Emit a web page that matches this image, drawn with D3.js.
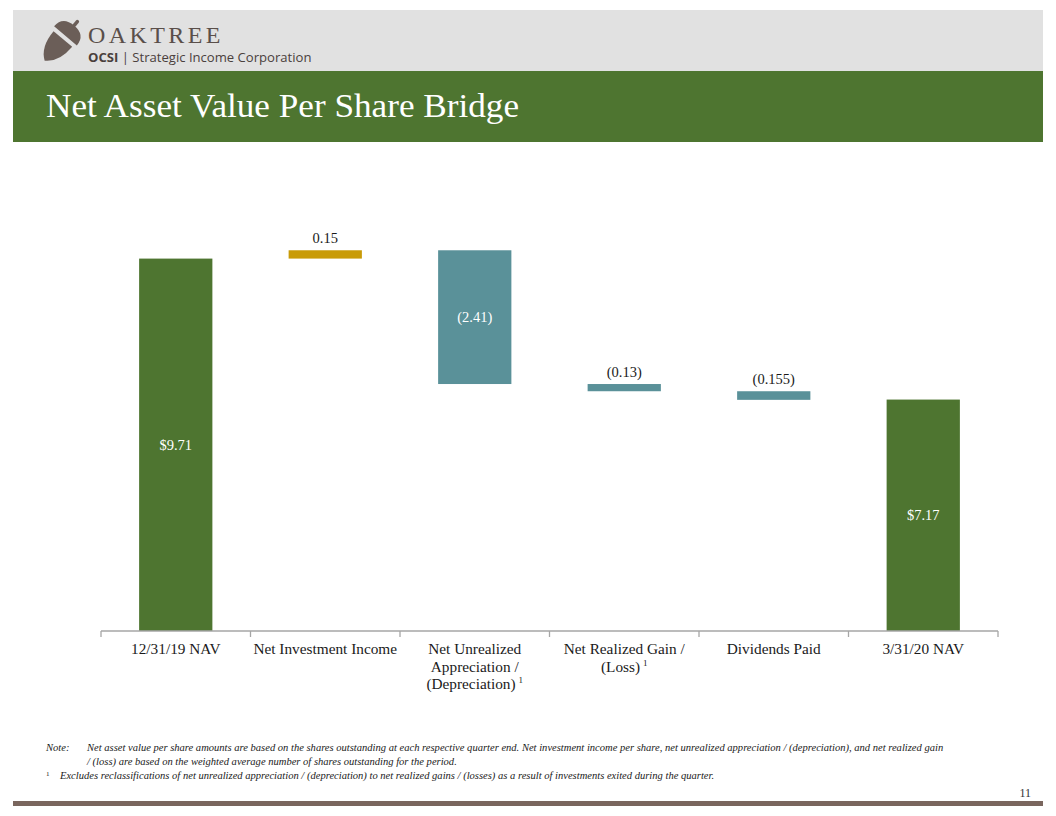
<!DOCTYPE html>
<html>
<head>
<meta charset="utf-8">
<script src="https://cdn.jsdelivr.net/npm/d3@7"></script>
<style>
  body { margin: 0; background: #fff; }
  svg text { font-family: "Liberation Serif", "DejaVu Serif", serif; }
</style>
</head>
<body>
<svg id="chart"></svg>
<script>
// Data
const categories = ["12/31/19 NAV", "Net Investment Income", "Net Unrealized Appreciation / (Depreciation)", "Net Realized Gain / (Loss)", "Dividends Paid", "3/31/20 NAV"];
const values = [9.71, 0.15, -2.41, -0.13, -0.155, 7.17];
const kinds = ["total", "delta", "delta", "delta", "delta", "total"];
const valueLabels = ["$9.71", "0.15", "(2.41)", "(0.13)", "(0.155)", "$7.17"];
const axisLines = [["12/31/19 NAV"], ["Net Investment Income"], ["Net Unrealized", "Appreciation /", "(Depreciation)"], ["Net Realized Gain /", "(Loss)"], ["Dividends Paid"], ["3/31/20 NAV"]];
const footnoteFlags = [false, false, true, true, false, false];

const width = 1056, height = 816;
const green = "#4e7530", teal = "#5a9199", gold = "#c99b07";

const svg = d3.select("#chart").attr("width", width).attr("height", height);

// Header
svg.append("rect").attr("x", 13).attr("y", 10).attr("width", 1030).attr("height", 61).attr("fill", "#e1e1e1");
svg.append("rect").attr("x", 13).attr("y", 71).attr("width", 1030).attr("height", 71).attr("fill", green);

// acorn logo
const logo = svg.append("g").attr("transform", "translate(62,40) rotate(40) scale(1.35)").attr("fill", "#6b5e58");
logo.append("path").attr("d", "M-11,-4 Q-11,-14 0,-14 Q11,-14 11,-4 Z");
logo.append("path").attr("d", "M-9,-1 L9,-1 Q9,14 0,20 Q-9,14 -9,-1 Z");
logo.append("rect").attr("x", -1.3).attr("y", -19).attr("width", 2.6).attr("height", 6).attr("rx", 1.3);

svg.append("text").attr("x", 88).attr("y", 43)
    .attr("font-size", 24).attr("letter-spacing", 3.4).attr("fill", "#5a4f4a")
    .text("OAKTREE");
const sub = svg.append("text").attr("x", 88).attr("y", 62)
    .style("font-family", "'Open Sans', 'Noto Sans', sans-serif")
    .attr("font-size", 13.1).attr("fill", "#4a403c");
sub.append("tspan").attr("font-weight", "bold").text("OCSI");
sub.append("tspan").text(" | Strategic Income Corporation");

svg.append("text").attr("x", 46).attr("y", 117)
    .attr("font-size", 33).attr("fill", "#fff")
    .attr("textLength", 473).attr("lengthAdjust", "spacingAndGlyphs")
    .text("Net Asset Value Per Share Bridge");

// Waterfall steps
let running = 0;
const steps = values.map((v, i) => {
    let lo, hi;
    if (kinds[i] === "total") { lo = 0; hi = v; running = v; }
    else { const prev = running; running = prev + v; lo = Math.min(prev, running); hi = Math.max(prev, running); }
    return { cat: categories[i], v, lo, hi, kind: kinds[i], label: valueLabels[i] };
});

// Scales
const x = d3.scaleBand().domain(categories).range([101, 998]).paddingInner(0).paddingOuter(0);
const y = d3.scaleLinear().domain([3, 10]).range([631, 242.5]);
const barW = x.bandwidth() * 0.49;

const fillFor = d => d.kind === "total" ? green : (d.v > 0 ? gold : teal);
const barH = d => y(Math.max(d.lo, 3)) - y(d.hi);

const bars = svg.selectAll("g.bar").data(steps).enter().append("g").attr("class", "bar");

bars.append("rect")
    .attr("x", d => x(d.cat) + (x.bandwidth() - barW) / 2)
    .attr("width", barW)
    .attr("y", d => y(d.hi))
    .attr("height", barH)
    .attr("fill", fillFor);

// value labels: inside for tall bars, above for thin ones
bars.append("text")
    .attr("x", d => x(d.cat) + x.bandwidth() / 2)
    .attr("y", d => barH(d) > 40 ? y(d.hi) + barH(d) / 2 : y(d.hi) - 7)
    .attr("dy", d => barH(d) > 40 ? "0.35em" : 0)
    .attr("text-anchor", "middle")
    .attr("font-size", 14.5)
    .attr("fill", d => barH(d) > 40 ? "#fff" : "#1a1a1a")
    .text(d => d.label);

// Axis
const axisG = svg.append("g").attr("transform", "translate(0,631)");
axisG.append("line").attr("x1", 101).attr("x2", 998).attr("stroke", "#a6a6a6").attr("stroke-width", 1.3);
const tickPos = categories.map(c => x(c)).concat([x.range()[1]]);
axisG.selectAll("line.tick").data(tickPos).enter().append("line")
    .attr("class", "tick").attr("x1", d => d).attr("x2", d => d)
    .attr("y1", 0).attr("y2", 6).attr("stroke", "#a6a6a6").attr("stroke-width", 1.3);

categories.forEach((c, i) => {
    const lines = axisLines[i];
    const cx = x(c) + x.bandwidth() / 2;
    const t = axisG.append("text")
        .attr("x", cx)
        .attr("y", 23)
        .attr("text-anchor", "middle")
        .attr("font-size", 15.3)
        .attr("fill", "#1a1a1a");
    lines.forEach((ln, j) => {
        t.append("tspan").attr("x", cx).attr("dy", j === 0 ? 0 : 17.5).text(ln);
        if (footnoteFlags[i] && j === lines.length - 1) {
            t.append("tspan").attr("dy", -6).attr("dx", 3).attr("font-size", 9).text("1");
        }
    });
});

// Notes
const notes = svg.append("g").attr("font-size", 10.55).attr("font-style", "italic").attr("fill", "#1a1a1a");
notes.append("text").attr("x", 46).attr("y", 751).text("Note:");
notes.append("text").attr("x", 87).attr("y", 751)
    .text("Net asset value per share amounts are based on the shares outstanding at each respective quarter end. Net investment income per share, net unrealized appreciation / (depreciation), and net realized gain");
notes.append("text").attr("x", 87).attr("y", 765)
    .text("/ (loss) are based on the weighted average number of shares outstanding for the period.");
notes.append("text").attr("x", 46).attr("y", 776).attr("font-size", 7).attr("font-style", "normal").text("1");
notes.append("text").attr("x", 60).attr("y", 779)
    .text("Excludes reclassifications of net unrealized appreciation / (depreciation) to net realized gains / (losses) as a result of investments exited during the quarter.");

// Footer
svg.append("rect").attr("x", 13).attr("y", 801).attr("width", 1030).attr("height", 5).attr("fill", "#7a665e");
svg.append("text").attr("x", 1031).attr("y", 797).attr("text-anchor", "end")
    .attr("font-size", 12).attr("fill", "#333").text("11");
</script>
</body>
</html>
